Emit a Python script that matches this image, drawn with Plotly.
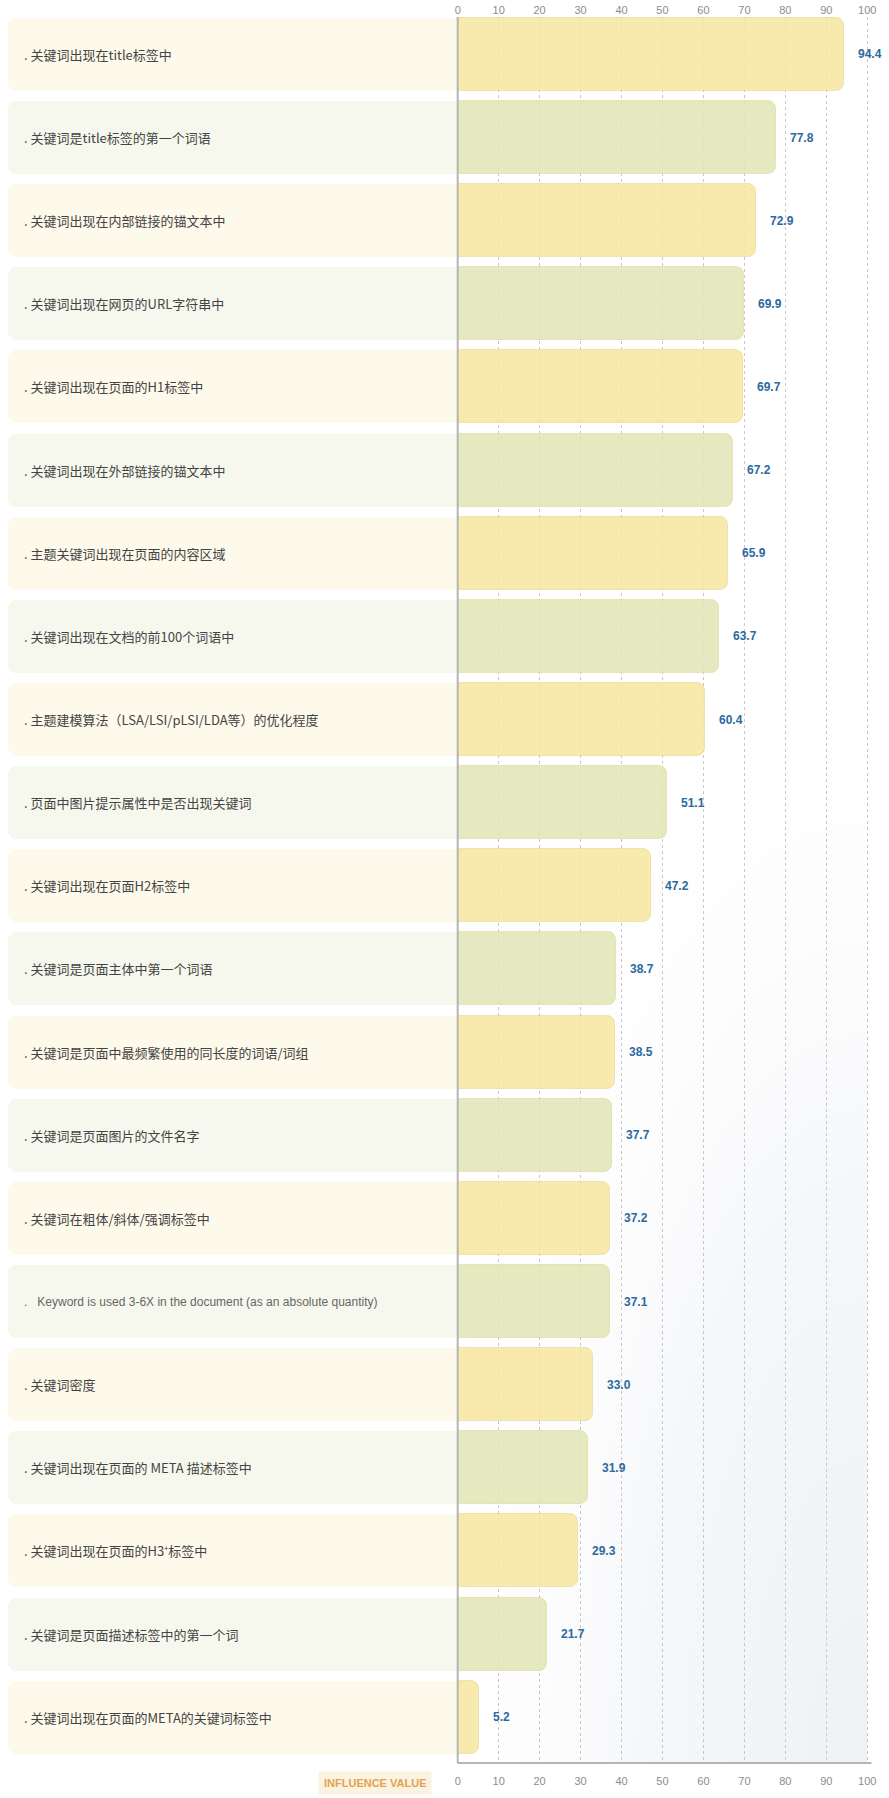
import base64
import plotly.graph_objects as go

# --- données ---
LABELS = [
    "关键词出现在title标签中",
    "关键词是title标签的第一个词语",
    "关键词出现在内部链接的锚文本中",
    "关键词出现在网页的URL字符串中",
    "关键词出现在页面的H1标签中",
    "关键词出现在外部链接的锚文本中",
    "主题关键词出现在页面的内容区域",
    "关键词出现在文档的前100个词语中",
    "主题建模算法（LSA/LSI/pLSI/LDA等）的优化程度",
    "页面中图片提示属性中是否出现关键词",
    "关键词出现在页面H2标签中",
    "关键词是页面主体中第一个词语",
    "关键词是页面中最频繁使用的同长度的词语/词组",
    "关键词是页面图片的文件名字",
    "关键词在粗体/斜体/强调标签中",
    "Keyword is used 3-6X in the document (as an absolute quantity)",
    "关键词密度",
    "关键词出现在页面的 META 描述标签中",
    "关键词出现在页面的H3⁺标签中",
    "关键词是页面描述标签中的第一个词",
    "关键词出现在页面的META的关键词标签中",
]
VALUES = [94.4, 77.8, 72.9, 69.9, 69.7, 67.2, 65.9, 63.7, 60.4, 51.1, 47.2,
          38.7, 38.5, 37.7, 37.2, 37.1, 33.0, 31.9, 29.3, 21.7, 5.2]
TICKS = [0, 10, 20, 30, 40, 50, 60, 70, 80, 90, 100]
AXIS_TITLE = "INFLUENCE VALUE"

# --- palette ---
C_BAR_Y = "rgba(247,229,159,0.85)"
C_BAR_G = "rgba(224,229,181,0.85)"
C_BOX_Y = "#fdf9eb"
C_BOX_G = "#f6f8ed"
C_LINE = "#b5b5b5"
C_GRID = "#c8c8c8"
C_TICK = "#8c8c8c"
C_VAL = "#2b6a9e"
C_TXT = "#444444"
C_ORANGE = "#e2a24f"

X_RANGE = [-111.74, 105.3]
Y_RANGE = [20.55, -0.45]
BOX_SPAN = 109.8   # largeur du cartouche de libellé (unités axe)
LABEL_X = -106.4
BAR_W = 0.878

n = len(LABELS)
bar_colors = [C_BAR_Y if i % 2 == 0 else C_BAR_G for i in range(n)]
box_colors = [C_BOX_Y if i % 2 == 0 else C_BOX_G for i in range(n)]
ys = list(range(n))

fig = go.Figure()

# cartouches de libellé (barres négatives, coin arrondi à gauche)
fig.add_trace(go.Bar(
    x=[-BOX_SPAN] * n, y=ys, orientation="h", width=BAR_W,
    marker=dict(color=box_colors, line=dict(width=0), cornerradius=8),
    hoverinfo="skip", showlegend=False,
))

# barres de valeur
fig.add_trace(go.Bar(
    x=VALUES, y=ys, orientation="h", width=BAR_W,
    marker=dict(color=bar_colors, line=dict(width=1, color="rgba(225,205,130,0.45)"),
                cornerradius=8),
    hovertemplate="%{x:.1f}<extra></extra>", showlegend=False,
))

# trace vide pour afficher l'axe du haut
fig.add_trace(go.Scatter(x=[None], y=[None], xaxis="x2", mode="markers",
                         hoverinfo="skip", showlegend=False))

# libellés + valeurs
for i, (lab, v) in enumerate(zip(LABELS, VALUES)):
    is_cjk = any(ord(ch) > 0x2e80 for ch in lab)
    if is_cjk:
        txt = ". " + lab
        font = dict(family="Noto Sans CJK SC", size=13, color=C_TXT)
    else:
        txt = ".\u00a0\u00a0\u00a0" + lab
        font = dict(family="Liberation Sans, Arial", size=12, color="#666666")
    fig.add_annotation(x=LABEL_X, y=i, text=txt, xanchor="left", yanchor="middle",
                       showarrow=False, font=font)
    fig.add_annotation(x=v, y=i, text=f"<b>{v:.1f}</b>", xanchor="left", yanchor="middle",
                       xshift=12, showarrow=False,
                       font=dict(family="Liberation Sans, Arial", size=12, color=C_VAL))

# titre d'axe en cartouche
fig.add_annotation(x=-20.3, y=0, yref="paper", yshift=-20, text=f"<b>{AXIS_TITLE}</b>",
                   showarrow=False, xanchor="center", yanchor="middle",
                   bgcolor="#fbf3e2", borderpad=5,
                   font=dict(family="Liberation Sans, Arial", size=11, color=C_ORANGE))

# ligne du zéro + axe bas
fig.add_shape(type="line", x0=0, x1=0, y0=0, y1=1, yref="paper",
              line=dict(color=C_LINE, width=2), layer="above")
fig.add_shape(type="line", x0=0, x1=101, y0=0, y1=0, yref="paper",
              line=dict(color=C_LINE, width=2), layer="above")

# léger dégradé gris en bas à droite
svg = ('<svg xmlns="http://www.w3.org/2000/svg" width="400" height="700" '
       'viewBox="0 0 400 700" preserveAspectRatio="none"><defs>'
       '<radialGradient id="g" cx="1" cy="1" r="1.1" fx="1" fy="1">'
       '<stop offset="0" stop-color="#eff1f4"/>'
       '<stop offset="0.5" stop-color="#f6f7f9"/>'
       '<stop offset="1" stop-color="#ffffff" stop-opacity="0"/>'
       '</radialGradient></defs><rect width="400" height="700" fill="url(#g)"/></svg>')
src = "data:image/svg+xml;base64," + base64.b64encode(svg.encode()).decode()
fig.add_layout_image(source=src, xref="x", yref="paper", x=0, y=0, sizex=100, sizey=0.6,
                     xanchor="left", yanchor="bottom", sizing="stretch", layer="below")

tickfont = dict(family="Liberation Sans, Arial", size=11, color=C_TICK)
fig.update_layout(
    width=889, height=1798,
    margin=dict(l=0, r=0, t=17, b=35),
    paper_bgcolor="white", plot_bgcolor="rgba(0,0,0,0)",
    barmode="overlay", bargap=0,
    showlegend=False,
    xaxis=dict(range=X_RANGE, tickvals=TICKS, showgrid=True, gridcolor=C_GRID,
               griddash="dot", gridwidth=1, zeroline=False, showline=False,
               ticks="", tickfont=tickfont, ticklabelstandoff=10, fixedrange=True),
    xaxis2=dict(range=X_RANGE, tickvals=TICKS, overlaying="x", side="top",
                showgrid=False, zeroline=False, showline=False, ticks="",
                tickfont=tickfont, ticklabelstandoff=0, fixedrange=True),
    yaxis=dict(range=Y_RANGE, showticklabels=False, showgrid=False, zeroline=False,
               fixedrange=True),
)

# pas de marge navigateur autour du graphique, pas de barre d'outils
fig.write_html("out.html", config={"displayModeBar": False},
               post_script="document.body.style.margin='0';")
